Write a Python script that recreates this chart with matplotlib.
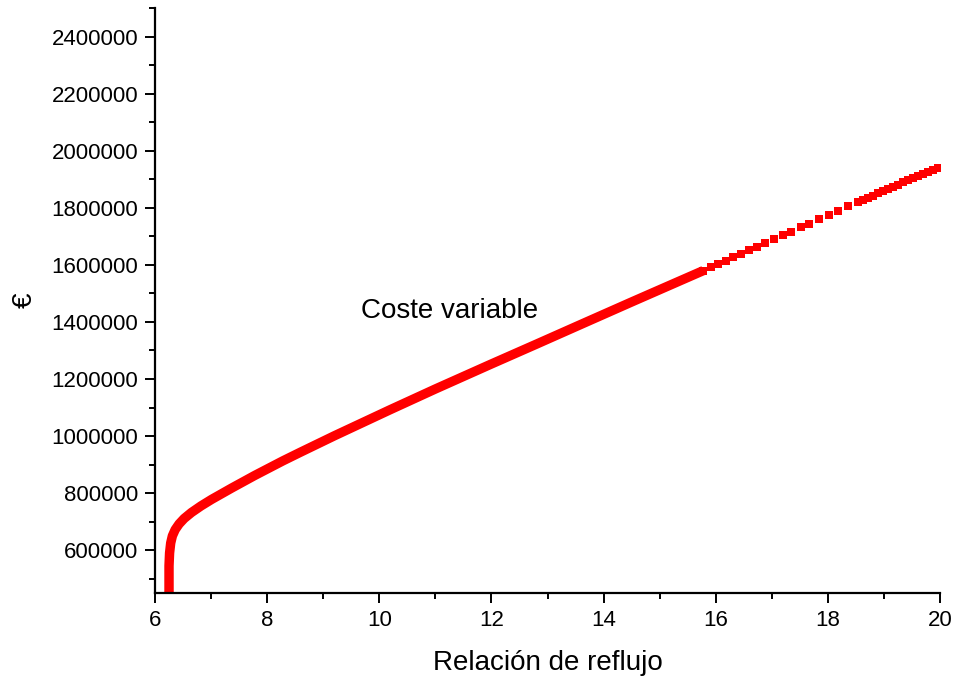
import matplotlib
matplotlib.use("Agg")
import matplotlib.pyplot as plt
from matplotlib.ticker import MultipleLocator

plt.rcParams["font.family"] = ["Liberation Sans", "DejaVu Sans"]

RED = "#ff0000"

# Continuous part of the curve, where the square markers overlap into a band
reflux_band = [6.25, 6.25, 6.26, 6.28, 6.31, 6.36, 6.43, 6.52, 6.65, 6.82, 7.01,
               7.37, 7.78, 8.28, 8.59, 9.20, 10.19, 11.00, 11.98, 12.80, 13.58,
               14.50, 15.36, 15.779]
cost_band = [440000, 545000, 590000, 625000, 650000, 672000, 692000, 711000,
             732000, 755000, 778000, 818000, 862000, 913000, 943000, 1001000,
             1092000, 1165000, 1251000, 1322000, 1390000, 1470000, 1544000,
             1580000]

# Individual markers at the upper end of the series
reflux_points = [15.779, 15.916, 16.046, 16.178, 16.314, 16.456, 16.599, 16.742,
                 16.885, 17.040, 17.195, 17.348, 17.518, 17.669, 17.848, 18.015,
                 18.186, 18.365, 18.543, 18.633, 18.722, 18.811, 18.900, 18.990,
                 19.079, 19.168, 19.257, 19.346, 19.435, 19.524, 19.614, 19.703,
                 19.792, 19.881, 19.970]
cost_points = [1580000, 1592000, 1603000, 1615000, 1627000, 1639000, 1652000,
               1664000, 1677000, 1690000, 1704000, 1717000, 1732000, 1745000,
               1760000, 1775000, 1790000, 1805000, 1820000, 1828000, 1836000,
               1843000, 1851000, 1859000, 1866000, 1874000, 1881000, 1889000,
               1896000, 1904000, 1911000, 1919000, 1926000, 1934000, 1941000]

fig = plt.figure(figsize=(9.55, 6.8), dpi=100)
ax = fig.add_axes([0.1623, 0.128, 0.822, 0.86])

ax.plot(reflux_band, cost_band, color=RED, linewidth=6.8,
        solid_capstyle="butt", solid_joinstyle="round")
ax.plot(reflux_points, cost_points, linestyle="none", marker="s",
        markersize=5.5, color=RED, markeredgewidth=0)

ax.text(11.26, 1437000, "Coste variable", fontsize=20, ha="center", va="center")

ax.set_xlim(6, 20)
ax.set_ylim(450000, 2500000)
ax.xaxis.set_major_locator(MultipleLocator(2))
ax.xaxis.set_minor_locator(MultipleLocator(1))
ax.yaxis.set_major_locator(MultipleLocator(200000))
ax.yaxis.set_minor_locator(MultipleLocator(100000))
ax.ticklabel_format(axis="y", style="plain", useOffset=False)

for side in ["top", "right"]:
    ax.spines[side].set_visible(False)
for side in ["left", "bottom"]:
    ax.spines[side].set_linewidth(1.6)

ax.tick_params(which="major", direction="out", length=7, width=1.4,
               labelsize=16, pad=5)
ax.tick_params(which="minor", direction="out", length=4, width=1.4)

ax.set_xlabel("Relación de reflujo", fontsize=20, labelpad=14)
ax.set_ylabel("€", fontsize=20, labelpad=10)

fig.savefig("out.png", dpi=100)
